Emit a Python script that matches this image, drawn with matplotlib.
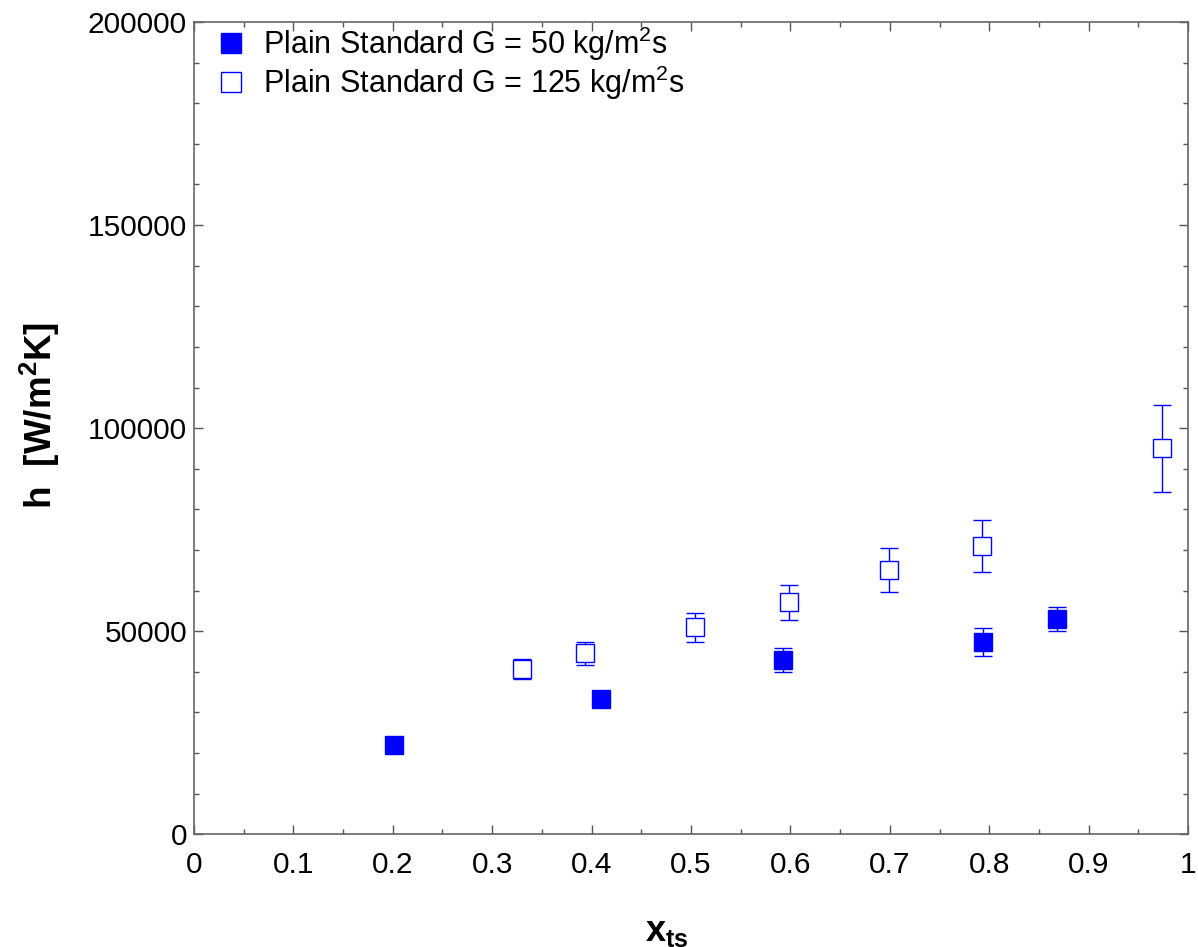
import matplotlib
matplotlib.use("Agg")
import matplotlib.pyplot as plt
from matplotlib.ticker import MultipleLocator, FuncFormatter
from matplotlib.lines import Line2D
import numpy as np

# G = 50 kg/m2s
x_g50 = [0.201, 0.409, 0.593, 0.794, 0.868]
h_g50 = [21900, 33200, 42900, 47400, 52900]
h_g50_lo = [21900, 33200, 39900, 43900, 49950]
h_g50_hi = [21900, 33200, 45800, 50850, 55900]

# G = 125 kg/m2s
x_g125 = [0.330, 0.393, 0.504, 0.599, 0.699, 0.793, 0.974]
h_g125 = [40600, 44550, 50950, 57100, 65050, 70880, 95100]
h_g125_lo = [38220, 41670, 47400, 52700, 59640, 64640, 84300]
h_g125_hi = [43070, 47400, 54400, 61290, 70540, 77300, 105800]

labels = ["Plain Standard G = 50 kg/m$^{\\mathregular{2}}$s",
          "Plain Standard G = 125 kg/m$^{\\mathregular{2}}$s"]

plt.rcParams["font.family"] = ["Liberation Sans", "DejaVu Sans"]
plt.rcParams["mathtext.fontset"] = "custom"
plt.rcParams["mathtext.rm"] = "Liberation Sans"
plt.rcParams["mathtext.bf"] = "Liberation Sans:bold"

blue = "#0000FF"
fig = plt.figure(figsize=(11.98, 9.47), dpi=100)
ax = fig.add_axes([0.1619, 0.119, 0.8298, 0.8578])


def asym(h, lo, hi):
    h = np.asarray(h, float)
    return [h - np.asarray(lo, float), np.asarray(hi, float) - h]


ax.errorbar(x_g50, h_g50, yerr=asym(h_g50, h_g50_lo, h_g50_hi), fmt="s",
            ms=13, mfc=blue, mec=blue, ecolor=blue, elinewidth=1.0,
            capsize=6.5, capthick=1.0, zorder=3)
ax.errorbar(x_g125, h_g125, yerr=asym(h_g125, h_g125_lo, h_g125_hi), fmt="s",
            ms=13, mfc="white", mec=blue, mew=1.0, ecolor=blue,
            elinewidth=1.0, capsize=6.5, capthick=1.0, zorder=3)

ax.set_xlim(0, 1)
ax.set_ylim(0, 200000)
ax.xaxis.set_major_locator(MultipleLocator(0.1))
ax.xaxis.set_minor_locator(MultipleLocator(0.05))
ax.yaxis.set_major_locator(MultipleLocator(50000))
ax.yaxis.set_minor_locator(MultipleLocator(10000))
ax.xaxis.set_major_formatter(FuncFormatter(lambda v, p: "%g" % round(v, 3)))
ax.yaxis.set_major_formatter(FuncFormatter(lambda v, p: "%d" % v))

ax.tick_params(which="both", direction="in", top=True, right=True,
               labelsize=21.5, colors="#555555", labelcolor="black")
ax.tick_params(which="major", length=6.5, width=1.0)
ax.tick_params(which="minor", length=3.5, width=1.0)
ax.tick_params(axis="x", which="major", pad=12)
ax.tick_params(axis="y", which="major", pad=5)
for s in ax.spines.values():
    s.set_color("#666666")
    s.set_linewidth(1.2)

ax.set_xlabel("x$_{\\mathbf{ts}}$", fontsize=26, fontweight="bold")
ax.xaxis.set_label_coords(0.476, -0.098)
ax.set_ylabel("h  [W/m$^{\\mathbf{2}}$K]", fontsize=26.5, fontweight="bold")
ax.yaxis.set_label_coords(-0.133, 0.516)

handles = [
    Line2D([], [], ls="none", marker="s", ms=14, mfc=blue, mec=blue),
    Line2D([], [], ls="none", marker="s", ms=14, mfc="white", mec=blue, mew=1.0),
]
ax.legend(handles, labels, loc="upper left", bbox_to_anchor=(0.0215, 0.997),
          frameon=False, fontsize=22, handlelength=1.0, handletextpad=0.55,
          labelspacing=0.02, borderpad=0.0, borderaxespad=0.0)

fig.savefig("out.png", dpi=100)
